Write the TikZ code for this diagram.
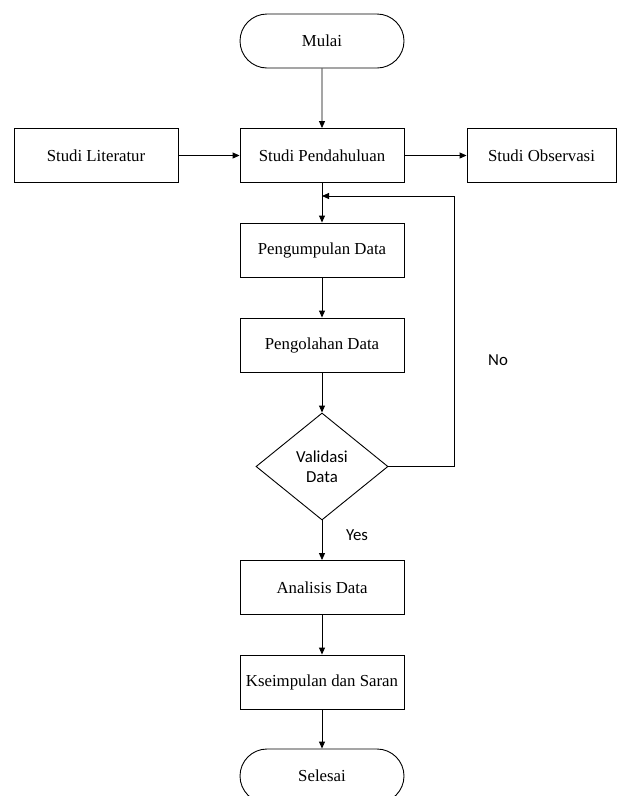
\documentclass[tikz,border=0pt]{standalone}
\usepackage{fontspec}
\setmainfont{Liberation Serif}
\newfontfamily\calfont{Carlito}
\usetikzlibrary{shapes.geometric,shapes.misc,arrows.meta}
\begin{document}
\begin{tikzpicture}[x=1pt,y=-1pt,
  box/.style={draw, line width=0.9pt, minimum width=164pt, minimum height=54pt, inner sep=0pt, font=\fontsize{16.8}{20}\selectfont},
  term/.style={box, rounded rectangle},
  dec/.style={draw, line width=0.9pt, diamond, minimum width=132pt, minimum height=107pt, inner sep=0pt, align=center, font=\calfont\fontsize{16.8}{20}\selectfont},
  lbl/.style={font=\calfont\fontsize{16.8}{20}\selectfont},
  arr/.style={line width=0.9pt, -{Triangle[length=7pt,width=6pt]}},
  ln/.style={line width=0.9pt}]
\clip (0,0) rectangle (619,796);
\fill[white] (0,0) rectangle (619,796);
\node[term] (mulai) at (322,41) {Mulai};
\node[box] (pend) at (322,155.5) {Studi Pendahuluan};
\node[box] (lit) at (96,155.5) {Studi Literatur};
\node[box, minimum width=149pt] (obs) at (541.5,155.5) {Studi Observasi};
\node[box] (peng) at (322,250) {Pengumpulan Data};
\node[box] (olah) at (322,345) {Pengolahan Data};
\node[dec] (val) at (322,466.5) {Validasi\\Data};
\node[box] (anal) at (322,587.5) {Analisis Data};
\node[box] (kes) at (322,682) {Kseimpulan dan Saran};
\node[term] (sel) at (322,776) {Selesai};
\coordinate (join) at (322,196);
\coordinate (corner) at (454,196);
\draw[arr] (mulai) -- (pend);
\draw[arr] (lit) -- (pend);
\draw[arr] (pend) -- (obs);
\draw[arr] (pend) -- (peng);
\draw[arr] (peng) -- (olah);
\draw[arr] (olah) -- (val);
\draw[arr] (val) -- (anal);
\draw[arr] (anal) -- (kes);
\draw[arr] (kes) -- (sel);
\draw[arr] (val.east) -| (corner) -- (join);
\node[lbl] (yes) at (357,535) {Yes};
\node[lbl] (no) at (498,360) {No};
\end{tikzpicture}
\end{document}
